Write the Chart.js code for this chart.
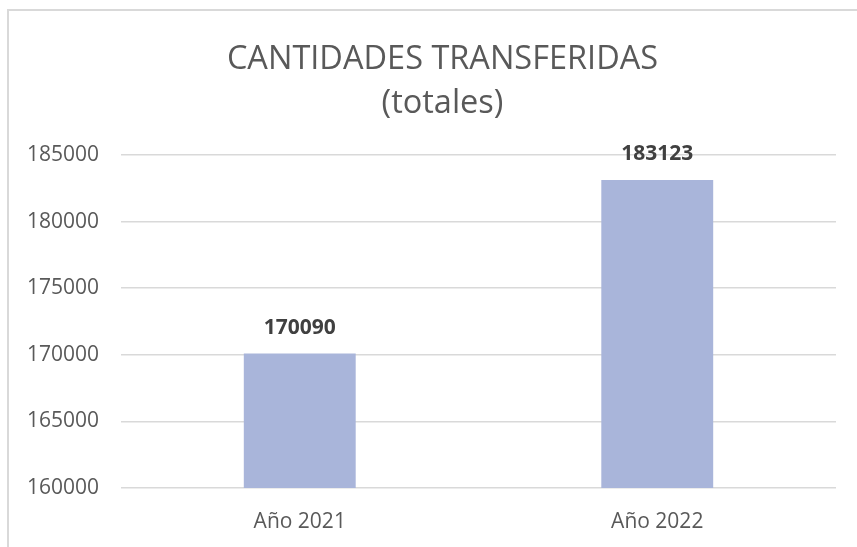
<!DOCTYPE html>
<html>
<head>
<meta charset="utf-8">
<script src="https://cdn.jsdelivr.net/npm/chart.js@4/dist/chart.umd.min.js"></script>
<style>
  html, body { margin: 0; padding: 0; background: #fff; overflow: hidden; }
  #wrap { position: relative; width: 857px; height: 547px; }
  #frame {
    position: absolute; left: 7px; top: 9px; width: 900px; height: 600px;
    border-top: 2px solid #d9d9d9; border-left: 2px solid #d9d9d9;
  }
  canvas { position: absolute; left: 0; top: 0; }
</style>
</head>
<body>
<div id="wrap">
  <div id="frame"></div>
  <canvas id="chart" width="857" height="547"></canvas>
</div>
<script>
const TITLE_LINES = ["CANTIDADES TRANSFERIDAS", "(totales)"];
const CATEGORIES = ["Año 2021", "Año 2022"];
const TOTALS = [170090, 183123];
const Y_MIN = 160000;
const Y_MAX = 185000;
const Y_STEP = 5000;

const TEXT_GREY = "#595959";
const BAR_COLOR = "#A9B5DA";
const GRID_GREY = "#D9D9D9";

// value labels above each bar, like the spreadsheet's data labels
const valueLabels = {
  id: "valueLabels",
  afterDatasetsDraw(chart) {
    const { ctx } = chart;
    const meta = chart.getDatasetMeta(0);
    ctx.save();
    ctx.font = "bold 21px 'Open Sans'";
    ctx.fillStyle = "#404040";
    ctx.textAlign = "center";
    ctx.textBaseline = "middle";
    meta.data.forEach((bar, i) => {
      ctx.fillText(String(TOTALS[i]), bar.x, bar.y - 26);
    });
    ctx.restore();
  },
};

new Chart(document.getElementById("chart"), {
  type: "bar",
  data: {
    labels: CATEGORIES,
    datasets: [
      {
        data: TOTALS,
        backgroundColor: BAR_COLOR,
        borderWidth: 0,
        categoryPercentage: 1,
        barPercentage: 0.313,
      },
    ],
  },
  options: {
    responsive: false,
    animation: false,
    layout: { padding: { left: 28, right: 0, top: 0, bottom: 15 } },
    plugins: {
      legend: { display: false },
      tooltip: { enabled: false },
      title: {
        display: true,
        text: TITLE_LINES,
        color: TEXT_GREY,
        font: { family: "Open Sans", size: 32.5, weight: "normal", lineHeight: "44px" },
        padding: { top: 38, bottom: 29 },
      },
    },
    scales: {
      x: {
        afterFit: (scale) => { scale.height = 44; },
        grid: { display: false, drawTicks: false },
        border: { display: false },
        ticks: { color: TEXT_GREY, padding: 21, maxRotation: 0, font: { family: "Open Sans", size: 21 } },
      },
      y: {
        min: Y_MIN,
        max: Y_MAX,
        afterFit: (scale) => { scale.width = 93; },
        grid: { color: GRID_GREY, lineWidth: 1.5, drawTicks: false },
        border: { display: false },
        ticks: {
          stepSize: Y_STEP,
          padding: 22,
          color: TEXT_GREY,
          font: { family: "Open Sans", size: 21 },
          callback: (v) => String(v),
        },
      },
      // empty right-hand margin so the plot ends where the reference does
      spacer: {
        position: "right",
        afterFit: (scale) => { scale.width = 21; },
        grid: { display: false, drawTicks: false },
        border: { display: false },
        ticks: { display: false },
      },
    },
  },
  plugins: [valueLabels],
});
</script>
</body>
</html>
